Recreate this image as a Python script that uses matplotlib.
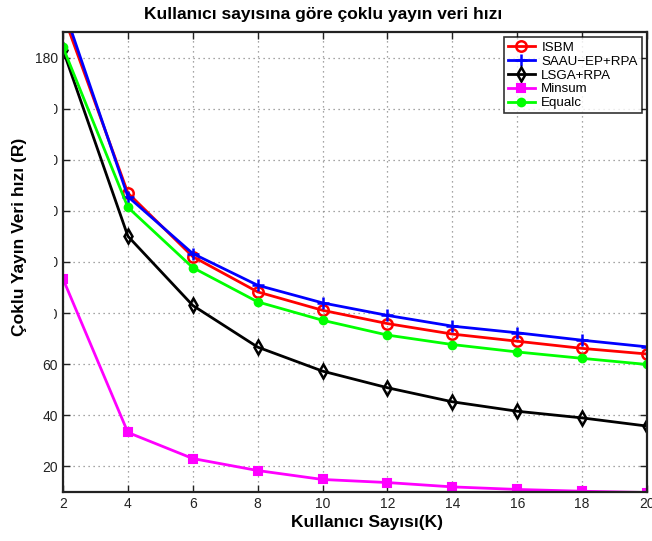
import matplotlib
matplotlib.use("Agg")
import matplotlib.pyplot as plt
from matplotlib.patches import Rectangle

plt.rcParams['font.family'] = ['Liberation Sans', 'DejaVu Sans']

# Number of users
users = [2, 4, 6, 8, 10, 12, 14, 16, 18, 20]

# Multicast data rate per scheme
isbm = [197, 127, 102.1, 88.3, 81.1, 75.9, 71.8, 69.0, 66.2, 64.0]
saau = [200, 125.6, 103.3, 90.9, 84.0, 79.1, 74.9, 72.3, 69.4, 66.8]
lsga = [183, 110.1, 83.0, 66.7, 57.3, 50.8, 45.3, 41.6, 39.0, 35.8]
minsum = [93.4, 33.3, 23.1, 18.4, 14.9, 13.7, 12.0, 11.0, 10.3, 9.8]
equalc = [184, 121.4, 97.8, 84.4, 77.2, 71.4, 67.7, 64.8, 62.3, 59.9]

series_names = ['ISBM', 'SAAU\u2212EP+RPA', 'LSGA+RPA', 'Minsum', 'Equalc']

x_ticks = [2, 4, 6, 8, 10, 12, 14, 16, 18, 20]
y_ticks = [20, 40, 60, 80, 100, 120, 140, 160, 180]

fig = plt.figure(figsize=(6.52, 5.41), dpi=100)
ax = fig.add_axes([63 / 652, 1 - 492 / 541, (647 - 63) / 652, (492 - 32) / 541])

lw = 2.0
ax.plot(users, isbm, color='red', lw=lw, marker='o', ms=7.5, mfc='none', mew=1.8, label=series_names[0])
ax.plot(users, saau, color='blue', lw=lw, marker='+', ms=8, mew=1.8, label=series_names[1])
ax.plot(users, lsga, color='black', lw=lw, marker='d', ms=7.5, mfc='none', mew=1.8, label=series_names[2])
ax.plot(users, minsum, color='magenta', lw=lw, marker='s', ms=6, mfc='magenta', mew=1.5, label=series_names[3])
ax.plot(users, equalc, color='#00ff00', lw=lw, marker='o', ms=5.5, mfc='#00ff00', mew=1.5, label=series_names[4])

ax.set_xlim(2, 20)
ax.set_ylim(10, 190)
ax.set_xticks(x_ticks)
ax.set_yticks(y_ticks)
ax.tick_params(direction='in', top=True, right=True, labelsize=10, length=5, width=1, colors='#222222')
ax.grid(True, linestyle=(0, (1, 3)), color='#888888', linewidth=0.9)
for s in ax.spines.values():
    s.set_linewidth(1.6)
    s.set_color('#222222')

leg = ax.legend(loc='upper right', fontsize=9.6, frameon=True, fancybox=False,
                edgecolor='black', borderpad=0.3, labelspacing=0.12,
                handlelength=2.0, handletextpad=0.5, borderaxespad=0.4)
leg.get_frame().set_linewidth(1.2)

fig.text(0.495, 1 - 15 / 541, 'Kullan\u0131c\u0131 say\u0131s\u0131na g\u00f6re \u00e7oklu yay\u0131n veri h\u0131z\u0131',
         ha='center', va='center', fontsize=12.5, fontweight='bold')
fig.text(367 / 652, 1 - 522 / 541, 'Kullan\u0131c\u0131 Say\u0131s\u0131(K)',
         ha='center', va='center', fontsize=12.5, fontweight='bold')

# White band behind the vertical axis title
fig.add_artist(Rectangle((0, 1 - 338 / 541), 54 / 652, (338 - 98) / 541,
                         transform=fig.transFigure, facecolor='white', edgecolor='none', zorder=5))
fig.text(20 / 652, 1 - 237 / 541, '\u00c7oklu Yay\u0131n Veri h\u0131z\u0131 (R)', rotation=90,
         ha='center', va='center', fontsize=12.5, fontweight='bold', zorder=6)

fig.savefig('out.png', dpi=100)
